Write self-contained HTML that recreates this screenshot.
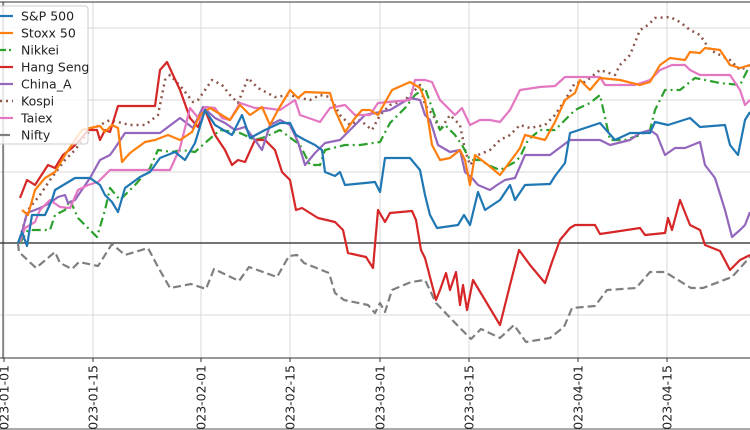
<!DOCTYPE html>
<html><head><meta charset="utf-8"><style>html,body{margin:0;padding:0;background:#fff;width:750px;height:430px;overflow:hidden}</style></head><body>
<svg width="750" height="430" xmlns="http://www.w3.org/2000/svg" font-family="DejaVu Sans, Liberation Sans, sans-serif">
<rect width="750" height="430" fill="#fff"/>
<g stroke="#d9d9d9" stroke-width="1">
<line x1="0" y1="28" x2="750" y2="28"/><line x1="0" y1="100" x2="750" y2="100"/><line x1="0" y1="172" x2="750" y2="172"/><line x1="0" y1="315" x2="750" y2="315"/>
<line x1="4" y1="2" x2="4" y2="358"/><line x1="93" y1="2" x2="93" y2="358"/><line x1="201" y1="2" x2="201" y2="358"/><line x1="290" y1="2" x2="290" y2="358"/><line x1="380" y1="2" x2="380" y2="358"/><line x1="469" y1="2" x2="469" y2="358"/><line x1="578" y1="2" x2="578" y2="358"/><line x1="667" y1="2" x2="667" y2="358"/>
</g>
<line x1="0" y1="243" x2="750" y2="243" stroke="#222" stroke-width="1.3"/>
<g fill="none" stroke-width="2.2" stroke-linejoin="round">
<polyline stroke="#7f7f7f" stroke-dasharray="8,4" points="18,243 19,252 36,268 55,252 60,263 72,269 79,262 98,266 112,244 125,255 148,248 158,267 170,288 191,284 206,289 214,269 239,281 249,267 277,277 289,256 297,255 304,263 329,273 335,293 344,300 368,305 375,313 380,303 385,312 392,290 411,282 425,280 436,303 459,327 471,339 481,329 500,338 514,325 526,342 550,338 560,330 564,327 572,308 595,306 607,290 636,288 650,272 665,272 691,288 703,288 732,277 750,257"/>
<polyline stroke="#8c564b" stroke-dasharray="2,4" stroke-width="2.5" points="20,238 28,210 40,195 50,180 65,160 75,150 90,130 110,120 130,125 145,125 158,115 165,80 170,75 182,88 193,102 198,100 205,90 212,80 222,85 230,95 238,103 248,78 258,88 275,97 290,95 300,98 310,100 320,95 330,97 340,115 350,125 360,120 372,130 380,115 390,105 405,100 420,85 425,105 433,115 440,130 450,115 460,125 465,150 470,165 478,155 490,150 500,140 510,135 520,125 530,128 545,125 555,115 565,100 575,83 585,82 600,70 615,75 620,65 630,55 640,30 648,25 655,18 670,17 680,22 690,30 700,35 710,50 720,55 730,60 740,70 750,65"/>
<polyline stroke="#2ca02c" stroke-dasharray="9,4,2,4" points="20,243 28,230 50,230 55,215 65,210 70,200 78,218 85,225 97,237 105,210 110,188 120,200 135,185 150,168 158,150 172,152 182,150 195,152 205,143 220,130 240,133 255,140 265,137 280,130 300,145 310,165 320,165 325,150 345,145 360,145 380,142 390,123 405,108 415,95 425,88 432,108 440,130 445,125 455,135 462,145 470,160 480,160 488,165 500,170 515,162 520,157 528,140 540,130 555,130 565,120 575,110 590,103 600,95 610,140 625,140 640,135 650,130 655,110 665,90 680,90 695,78 720,83 740,85 745,75 750,65"/>
<polyline stroke="#d62728" points="20,198 27,180 35,185 48,165 55,168 63,155 72,148 80,140 88,130 97,130 100,140 105,130 110,132 118,106 155,106 160,70 167,62 180,90 190,118 198,127 205,110 215,135 225,150 232,165 238,160 245,162 255,140 265,140 275,150 282,172 290,180 296,210 302,208 318,218 335,222 343,230 348,253 366,257 373,268 378,210 385,222 390,213 412,211 416,220 421,250 425,258 436,300 440,290 446,273 450,290 456,272 460,305 463,285 467,310 473,280 482,295 500,325 510,285 519,250 530,265 545,283 552,262 560,240 570,228 575,225 595,225 600,234 640,228 645,235 665,233 668,218 672,230 680,200 690,225 700,230 705,245 720,251 730,270 740,260 750,255"/>
<polyline stroke="#9467bd" points="20,240 27,213 40,208 50,203 58,197 65,195 68,203 75,200 90,178 100,160 110,155 115,148 125,133 160,133 180,118 193,128 203,107 215,118 225,123 235,130 245,127 255,140 262,150 270,125 280,120 290,125 298,142 305,165 315,153 325,143 340,140 350,130 365,115 390,110 410,98 420,100 425,115 430,120 438,145 450,152 460,150 465,172 472,178 478,185 490,190 497,185 505,180 515,178 525,155 550,155 570,140 600,140 610,145 630,140 640,133 650,130 657,135 665,155 675,148 685,148 700,142 705,165 715,178 725,210 732,237 740,230 745,225 750,212"/>
<polyline stroke="#e377c2" points="20,242 25,228 35,222 40,210 50,200 60,207 70,208 78,190 88,185 98,182 110,170 170,170 180,148 190,108 200,120 205,107 215,108 222,118 230,120 240,103 255,108 265,108 280,110 295,100 300,115 320,122 330,108 345,105 355,115 370,115 378,103 410,100 415,80 425,80 432,82 440,100 455,115 462,108 470,125 480,120 490,120 500,122 510,110 520,90 540,87 555,86 565,77 600,77 605,85 635,85 650,80 660,70 672,65 685,65 690,70 700,75 730,75 740,90 745,105 750,100"/>
<polyline stroke="#ff7f0e" points="22,210 28,215 35,190 45,178 55,172 65,155 75,140 82,130 90,128 100,126 105,132 112,125 118,128 122,162 130,153 145,142 155,140 168,135 180,140 192,132 200,115 210,108 230,120 240,105 250,115 262,107 270,125 278,110 290,90 298,98 305,92 330,93 335,110 345,132 355,118 362,110 370,110 378,115 392,90 410,82 420,88 425,100 432,145 440,160 450,158 460,150 465,160 470,185 475,155 488,165 500,175 515,155 520,148 525,135 545,140 555,122 565,100 575,93 580,80 590,90 600,78 620,80 640,85 650,82 660,65 670,58 685,60 690,52 700,53 705,48 720,50 730,65 740,68 750,65"/>
<polyline stroke="#1f77b4" points="18,243 22,232 27,246 32,215 45,215 52,200 55,190 75,178 90,178 100,185 105,195 112,202 118,212 125,188 140,177 150,172 160,158 175,152 185,160 195,143 205,110 215,125 232,135 242,115 250,138 265,130 280,123 290,123 296,135 305,140 315,145 322,150 325,172 335,176 340,172 345,185 375,182 380,192 385,158 410,158 420,170 425,195 430,215 437,228 458,225 464,215 470,225 478,192 485,210 500,200 510,185 515,200 525,185 550,184 555,176 565,163 570,133 585,128 600,123 615,140 630,133 650,133 655,122 668,125 690,118 700,127 725,125 730,145 738,155 745,120 750,112"/>
</g>
<line x1="0" y1="2" x2="750" y2="2" stroke="#333" stroke-width="1"/>
<line x1="3" y1="2" x2="3" y2="358" stroke="#333" stroke-width="1"/>
<line x1="0" y1="358" x2="750" y2="358" stroke="#333" stroke-width="1"/>
<line x1="0" y1="429" x2="750" y2="429" stroke="#555" stroke-width="1"/>
<g stroke="#333"><line x1="4" y1="358" x2="4" y2="362"/><line x1="93" y1="358" x2="93" y2="362"/><line x1="201" y1="358" x2="201" y2="362"/><line x1="290" y1="358" x2="290" y2="362"/><line x1="380" y1="358" x2="380" y2="362"/><line x1="469" y1="358" x2="469" y2="362"/><line x1="578" y1="358" x2="578" y2="362"/><line x1="667" y1="358" x2="667" y2="362"/></g>
<g font-size="12.5" fill="#222" text-anchor="end">
<text transform="translate(8.5,365) rotate(-90)">2023-01-01</text>
<text transform="translate(97.5,365) rotate(-90)">2023-01-15</text>
<text transform="translate(205.5,365) rotate(-90)">2023-02-01</text>
<text transform="translate(294.5,365) rotate(-90)">2023-02-15</text>
<text transform="translate(384.5,365) rotate(-90)">2023-03-01</text>
<text transform="translate(473.5,365) rotate(-90)">2023-03-15</text>
<text transform="translate(582.5,365) rotate(-90)">2023-04-01</text>
<text transform="translate(671.5,365) rotate(-90)">2023-04-15</text>
</g>
<rect x="-4" y="6" width="92" height="138" rx="3" fill="#fff" fill-opacity="0.8" stroke="#ccc"/>
<g stroke-width="2.2" fill="none">
<line x1="0" y1="16" x2="13" y2="16" stroke="#1f77b4"/>
<line x1="0" y1="33" x2="13" y2="33" stroke="#ff7f0e"/>
<line x1="0" y1="50" x2="13" y2="50" stroke="#2ca02c" stroke-dasharray="6,3,2,3"/>
<line x1="0" y1="67" x2="13" y2="67" stroke="#d62728"/>
<line x1="0" y1="84" x2="13" y2="84" stroke="#9467bd"/>
<line x1="0" y1="101" x2="13" y2="101" stroke="#8c564b" stroke-dasharray="2,4" stroke-width="2.5"/>
<line x1="0" y1="118" x2="13" y2="118" stroke="#e377c2"/>
<line x1="0" y1="135" x2="10" y2="135" stroke="#7f7f7f"/>
</g>
<g font-size="12.5" fill="#222">
<text x="21" y="20.5">S&amp;P 500</text><text x="21" y="37.5">Stoxx 50</text><text x="21" y="54.5">Nikkei</text><text x="21" y="71.5">Hang Seng</text><text x="21" y="88.5">China_A</text><text x="21" y="105.5">Kospi</text><text x="21" y="122.5">Taiex</text><text x="21" y="139.5">Nifty</text>
</g>
</svg>
</body></html>
